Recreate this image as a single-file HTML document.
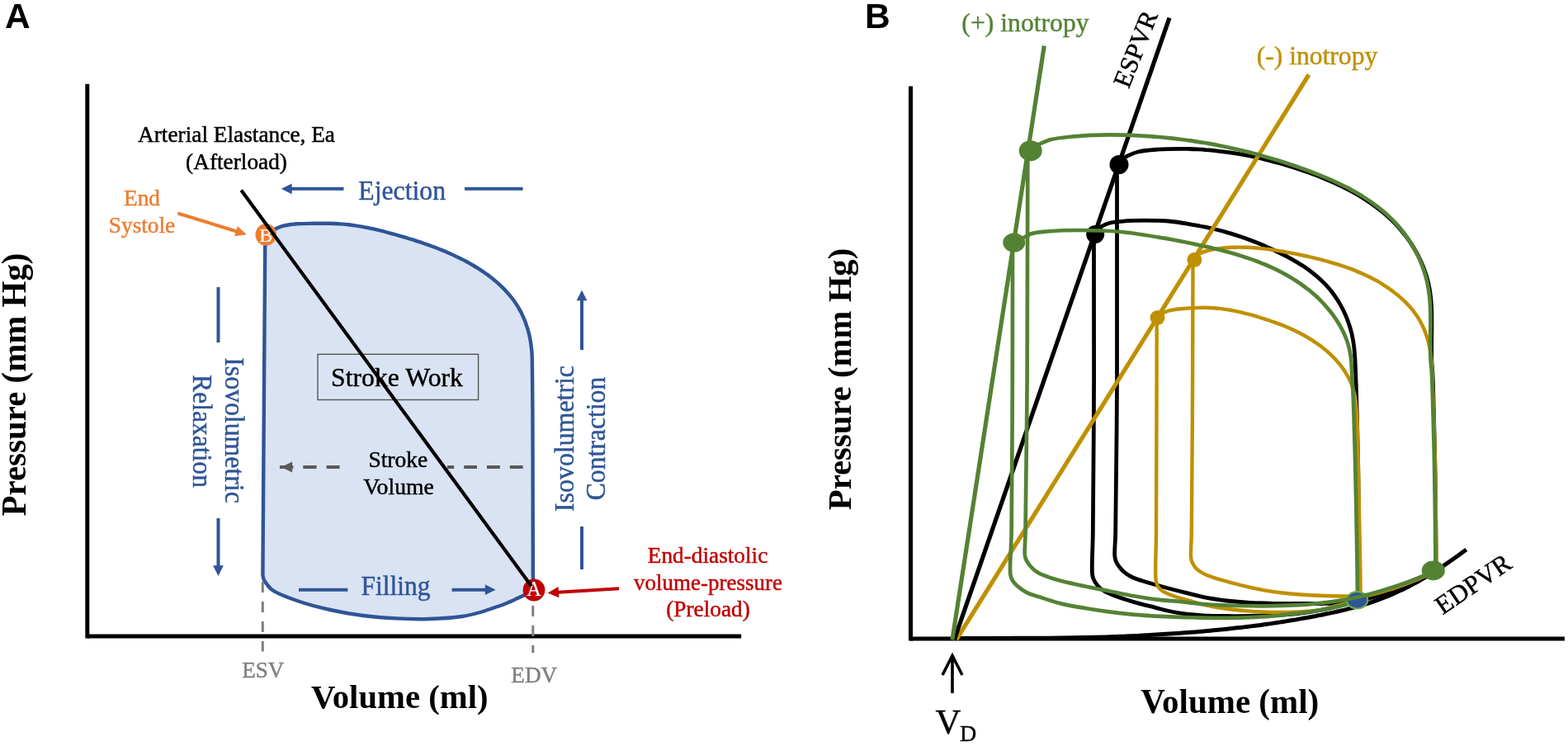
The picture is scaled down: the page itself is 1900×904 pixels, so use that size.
<!DOCTYPE html>
<html lang="en">
<head>
<meta charset="utf-8">
<title>Pressure-volume loops</title>
<style>
html,body{margin:0;padding:0;background:#fff;}
body{width:1900px;height:904px;overflow:hidden;}
svg{display:block;}
</style>
</head>
<body>
<svg width="1900" height="904" viewBox="0 0 1900 904">
<rect width="1900" height="904" fill="#fff"/>
<g id="panelA">
<text x="6.1" y="34.0" font-family="'Liberation Sans',sans-serif" font-size="42.4" font-weight="bold" fill="#000">A</text>
<path d="M321.2 298.0C321.3 295.0 321.2 293.2 321.6 291.0C322.0 288.9 322.5 286.8 323.5 285.0C324.5 283.3 325.9 281.7 327.5 280.5C329.2 279.2 331.6 278.5 333.7 277.5C335.7 276.6 337.6 275.5 339.7 274.8C341.8 274.0 343.8 273.5 346.4 273.0C350.0 272.3 354.7 271.7 359.6 271.3C365.5 270.8 372.8 270.9 379.5 270.8C386.3 270.7 395.1 270.7 400.0 270.8C402.8 270.8 404.3 270.9 406.5 271.0C408.7 271.1 410.8 271.2 413.0 271.4C415.1 271.5 417.3 271.7 419.4 271.9C421.6 272.2 423.7 272.4 425.8 272.7C428.0 273.0 430.1 273.3 432.2 273.6C434.4 273.9 436.5 274.3 438.6 274.7C440.7 275.1 442.8 275.5 444.9 275.9C447.1 276.3 449.2 276.8 451.3 277.2C453.4 277.7 455.5 278.2 457.6 278.7C459.7 279.2 461.8 279.7 463.9 280.2C466.0 280.7 468.0 281.3 470.1 281.8C472.2 282.4 474.3 283.0 476.4 283.5C478.5 284.1 480.6 284.7 482.7 285.3C484.7 285.9 486.8 286.5 488.9 287.1C491.0 287.7 493.1 288.3 495.1 289.0C497.2 289.6 499.3 290.3 501.4 290.9C503.4 291.6 505.5 292.2 507.6 292.9C509.6 293.6 511.7 294.3 513.7 295.0C515.8 295.7 517.8 296.4 519.9 297.1C521.9 297.8 524.0 298.6 526.0 299.3C528.0 300.1 530.1 300.9 532.1 301.7C534.1 302.5 536.1 303.3 538.1 304.1C540.1 305.0 542.1 305.8 544.1 306.7C546.1 307.6 548.1 308.4 550.0 309.4C552.0 310.3 554.0 311.2 555.9 312.2C557.9 313.1 559.8 314.1 561.7 315.1C563.7 316.1 565.6 317.2 567.5 318.2C569.4 319.3 571.3 320.4 573.2 321.5C575.0 322.6 576.9 323.7 578.8 324.9C580.6 326.0 582.4 327.2 584.2 328.4C586.1 329.7 587.8 330.9 589.6 332.2C591.4 333.4 593.1 334.7 594.8 336.1C596.5 337.4 598.2 338.8 599.9 340.2C601.5 341.6 603.1 343.0 604.7 344.4C606.3 345.9 607.9 347.4 609.4 348.9C610.9 350.4 612.4 351.9 613.8 353.5C615.3 355.1 616.7 356.7 618.0 358.3C619.4 360.0 620.7 361.6 622.0 363.3C623.2 365.0 624.4 366.8 625.6 368.6C626.8 370.3 627.9 372.1 628.9 374.0C630.0 375.8 631.0 377.7 632.0 379.6C632.9 381.5 633.8 383.5 634.6 385.4C635.5 387.4 636.3 389.4 637.0 391.4C637.7 393.4 638.4 395.5 639.1 397.6C639.7 399.6 640.3 401.7 640.8 403.8C641.3 405.9 641.8 408.0 642.2 410.2C642.6 412.3 643.0 414.4 643.3 416.6C643.6 418.7 643.9 420.9 644.1 423.0C644.3 425.2 644.5 427.4 644.6 429.5C644.7 431.7 644.7 433.2 644.8 436.0C644.9 441.5 645.0 451.0 645.1 460.0C645.2 471.6 645.3 485.3 645.4 500.0C645.5 518.0 645.5 540.0 645.6 560.0C645.6 580.0 645.7 600.9 645.7 620.0C645.7 637.4 645.8 656.4 645.8 670.0L645.8 694L645.8 694.0C645.9 697.9 646.1 701.4 646.3 705.0C646.5 708.4 647.0 715.0 647.0 715.0L647.0 715.0C647.0 715.0 642.1 717.8 640.0 718.9C638.3 719.8 637.0 720.3 635.2 721.2C632.7 722.4 629.7 723.8 626.5 725.3C622.6 727.1 617.7 729.4 613.3 731.2C608.9 733.0 604.9 734.3 600.0 736.0C594.0 738.0 586.7 740.7 580.0 742.5C573.4 744.3 567.9 745.8 560.0 747.0C549.0 748.6 533.3 749.6 520.0 750.0C506.7 750.4 493.3 750.1 480.0 749.4C466.7 748.7 453.3 747.7 440.0 746.0C426.6 744.3 413.3 742.0 400.0 739.0C386.6 736.0 372.2 732.3 360.0 728.0C349.1 724.2 335.6 718.8 330.0 715.0C327.4 713.2 326.6 711.9 325.0 710.0C323.2 707.9 321.1 705.3 320.0 703.0C319.1 701.0 318.8 699.8 318.4 697.0Z" fill="#dae3f3" stroke="#2f5597" stroke-width="4.4" stroke-linejoin="round"/>
<line x1="105.8" y1="101.8" x2="105.8" y2="773.6" stroke="#000" stroke-width="5.0"/>
<line x1="105.9" y1="771.1" x2="898.2" y2="771.1" stroke="#000" stroke-width="5.0"/>
<line x1="318.3" y1="705.0" x2="318.3" y2="789.5" stroke="#7f7f7f" stroke-width="3.0" stroke-dasharray="13 11"/>
<line x1="645.8" y1="734.0" x2="645.8" y2="791.0" stroke="#7f7f7f" stroke-width="3.0" stroke-dasharray="13 11"/>
<text x="318.8" y="821.3" font-family="'Liberation Serif',serif" font-size="27.0" text-anchor="middle" fill="#7f7f7f" textLength="51.0" lengthAdjust="spacingAndGlyphs" stroke="#7f7f7f" stroke-width="0.45">ESV</text>
<text x="647.3" y="827.0" font-family="'Liberation Serif',serif" font-size="27.0" text-anchor="middle" fill="#7f7f7f" textLength="56.0" lengthAdjust="spacingAndGlyphs" stroke="#7f7f7f" stroke-width="0.45">EDV</text>
<text x="484.3" y="857.7" font-family="'Liberation Serif',serif" font-size="41.0" font-weight="bold" text-anchor="middle" fill="#000" textLength="214.5" lengthAdjust="spacingAndGlyphs">Volume (ml)</text>
<text transform="translate(30.5 466.0) rotate(-90.00)" font-family="'Liberation Serif',serif" font-size="41.3" font-weight="bold" text-anchor="middle" fill="#000" textLength="319.0" lengthAdjust="spacingAndGlyphs">Pressure (mm Hg)</text>
<text x="286.5" y="171.7" font-family="'Liberation Serif',serif" font-size="27.3" text-anchor="middle" fill="#000" textLength="239.0" lengthAdjust="spacingAndGlyphs" stroke="#000" stroke-width="0.45">Arterial Elastance, Ea</text>
<text x="286.5" y="204.7" font-family="'Liberation Serif',serif" font-size="27.3" text-anchor="middle" fill="#000" stroke="#000" stroke-width="0.45">(Afterload)</text>
<line x1="633.6" y1="566.0" x2="542.0" y2="566.0" stroke="#595959" stroke-width="3.8" stroke-dasharray="15.8 12"/>
<line x1="339.0" y1="566.0" x2="411.5" y2="566.0" stroke="#595959" stroke-width="3.8" stroke-dasharray="16.3 12"/>
<polygon points="340.8,566 354.2,559.5 354.2,572.5" fill="#595959"/>
<text x="482.3" y="566.0" font-family="'Liberation Serif',serif" font-size="27.5" text-anchor="middle" fill="#000" stroke="#000" stroke-width="0.45">Stroke</text>
<text x="483.0" y="598.5" font-family="'Liberation Serif',serif" font-size="27.7" text-anchor="middle" fill="#000" stroke="#000" stroke-width="0.45">Volume</text>
<text x="172.0" y="249.3" font-family="'Liberation Serif',serif" font-size="27.3" text-anchor="middle" fill="#ed7d31" stroke="#ed7d31" stroke-width="0.45">End</text>
<text x="172.0" y="282.4" font-family="'Liberation Serif',serif" font-size="27.3" text-anchor="middle" fill="#ed7d31" stroke="#ed7d31" stroke-width="0.45">Systole</text>
<line x1="215.5" y1="258.5" x2="287.0" y2="280.5" stroke="#ed7d31" stroke-width="4.0"/>
<polygon points="298.9,284.2 284.1,286.3 287.9,274.1" fill="#ed7d31"/>
<ellipse cx="322.3" cy="284.3" rx="12.8" ry="13.3" fill="#ed7d31"/>
<text x="322.3" y="292.6" font-family="'Liberation Serif',serif" font-size="24.0" text-anchor="middle" fill="#fff" stroke="#fff" stroke-width="0.20">B</text>
<rect x="385" y="429.3" width="194.6" height="55.2" fill="none" stroke="#555" stroke-width="1.4"/>
<text x="481.0" y="467.7" font-family="'Liberation Serif',serif" font-size="31.0" text-anchor="middle" fill="#000" textLength="160.0" lengthAdjust="spacingAndGlyphs" stroke="#000" stroke-width="0.45">Stroke Work</text>
<text x="487.2" y="242.3" font-family="'Liberation Serif',serif" font-size="32.8" text-anchor="middle" fill="#2f5597" textLength="105.8" lengthAdjust="spacingAndGlyphs" stroke="#2f5597" stroke-width="0.45">Ejection</text>
<line x1="416.5" y1="228.8" x2="352.6" y2="228.8" stroke="#2f5597" stroke-width="4.0"/>
<polygon points="340.8,228.8 353.6,222.4 353.6,235.2" fill="#2f5597"/>
<line x1="563.0" y1="228.8" x2="633.6" y2="228.8" stroke="#2f5597" stroke-width="4.0"/>
<text x="479.6" y="721.4" font-family="'Liberation Serif',serif" font-size="32.8" text-anchor="middle" fill="#2f5597" textLength="84.0" lengthAdjust="spacingAndGlyphs" stroke="#2f5597" stroke-width="0.45">Filling</text>
<line x1="362.0" y1="714.7" x2="421.4" y2="714.7" stroke="#2f5597" stroke-width="4.0"/>
<line x1="547.6" y1="714.7" x2="588.8" y2="714.7" stroke="#2f5597" stroke-width="4.0"/>
<polygon points="600.6,714.7 587.8,721.1 587.8,708.3" fill="#2f5597"/>
<text transform="translate(272.5 521.5) rotate(90.00)" font-family="'Liberation Serif',serif" font-size="33.0" text-anchor="middle" fill="#2f5597" textLength="176.5" lengthAdjust="spacingAndGlyphs" stroke="#2f5597" stroke-width="0.45">Isovolumetric</text>
<text transform="translate(234.3 522.5) rotate(90.00)" font-family="'Liberation Serif',serif" font-size="33.0" text-anchor="middle" fill="#2f5597" textLength="137.0" lengthAdjust="spacingAndGlyphs" stroke="#2f5597" stroke-width="0.45">Relaxation</text>
<line x1="264.5" y1="348.0" x2="264.5" y2="415.0" stroke="#2f5597" stroke-width="4.0"/>
<line x1="264.5" y1="628.0" x2="264.5" y2="686.2" stroke="#2f5597" stroke-width="4.0"/>
<polygon points="264.5,698.0 258.1,685.2 270.9,685.2" fill="#2f5597"/>
<text transform="translate(695.0 531.5) rotate(-90.00)" font-family="'Liberation Serif',serif" font-size="33.0" text-anchor="middle" fill="#2f5597" textLength="177.0" lengthAdjust="spacingAndGlyphs" stroke="#2f5597" stroke-width="0.45">Isovolumetric</text>
<text transform="translate(732.5 531.5) rotate(-90.00)" font-family="'Liberation Serif',serif" font-size="33.0" text-anchor="middle" fill="#2f5597" textLength="149.5" lengthAdjust="spacingAndGlyphs" stroke="#2f5597" stroke-width="0.45">Contraction</text>
<line x1="705.0" y1="424.0" x2="705.0" y2="363.3" stroke="#2f5597" stroke-width="4.0"/>
<polygon points="705.0,351.5 711.4,364.3 698.6,364.3" fill="#2f5597"/>
<line x1="705.0" y1="638.0" x2="705.0" y2="690.0" stroke="#2f5597" stroke-width="4.0"/>
<circle cx="647" cy="715" r="13.4" fill="#c00000"/>
<text x="647.0" y="722.3" font-family="'Liberation Serif',serif" font-size="24.3" text-anchor="middle" fill="#fff" stroke="#fff" stroke-width="0.20">A</text>
<line x1="750.0" y1="713.2" x2="676.0" y2="717.7" stroke="#c00000" stroke-width="4.0"/>
<polygon points="663.7,718.4 676.6,711.0 677.4,724.2" fill="#c00000"/>
<text x="857.5" y="682.0" font-family="'Liberation Serif',serif" font-size="27.3" text-anchor="middle" fill="#c00000" stroke="#c00000" stroke-width="0.45">End-diastolic</text>
<text x="858.0" y="715.0" font-family="'Liberation Serif',serif" font-size="27.3" text-anchor="middle" fill="#c00000" textLength="180.0" lengthAdjust="spacingAndGlyphs" stroke="#c00000" stroke-width="0.45">volume-pressure</text>
<text x="858.0" y="746.8" font-family="'Liberation Serif',serif" font-size="27.3" text-anchor="middle" fill="#c00000" stroke="#c00000" stroke-width="0.45">(Preload)</text>
<line x1="292.3" y1="230.5" x2="643.9" y2="710.3" stroke="#000" stroke-width="4.2"/>
</g>
<g id="panelB" fill="none" stroke-linecap="butt">
<text x="1048.0" y="34.0" font-family="'Liberation Sans',sans-serif" font-size="42.4" font-weight="bold" fill="#000">B</text>
<line x1="1103.5" y1="104.6" x2="1103.5" y2="776.6" stroke="#000" stroke-width="5.0"/>
<line x1="1103.4" y1="774.1" x2="1895.9" y2="774.1" stroke="#000" stroke-width="5.0"/>
<path d="M1158.0 773.6C1158.0 773.6 1185.4 773.5 1200.0 773.5C1215.9 773.4 1233.3 773.4 1250.0 773.3C1266.7 773.2 1284.3 773.1 1300.0 772.8C1314.1 772.6 1331.7 772.2 1340.0 771.9C1343.7 771.8 1345.4 771.7 1348.2 771.6C1350.9 771.5 1353.6 771.4 1356.3 771.3C1359.0 771.2 1361.8 771.1 1364.5 770.9C1367.2 770.8 1369.9 770.7 1372.7 770.6C1375.4 770.4 1378.1 770.3 1380.8 770.2C1383.5 770.0 1386.3 769.9 1389.0 769.8C1391.7 769.6 1394.4 769.5 1397.1 769.3C1399.9 769.2 1402.6 769.0 1405.3 768.8C1408.0 768.7 1410.7 768.5 1413.5 768.3C1416.2 768.2 1418.9 768.0 1421.6 767.8C1424.3 767.6 1427.1 767.4 1429.8 767.2C1432.5 767.0 1435.2 766.8 1437.9 766.6C1440.6 766.4 1443.4 766.2 1446.1 766.0C1448.8 765.8 1451.5 765.5 1454.2 765.3C1456.9 765.1 1459.7 764.8 1462.4 764.6C1465.1 764.3 1467.8 764.1 1470.5 763.8C1473.2 763.6 1475.9 763.3 1478.6 763.0C1481.4 762.8 1484.1 762.5 1486.8 762.2C1489.5 761.9 1492.2 761.6 1494.9 761.3C1497.6 761.0 1500.3 760.7 1503.0 760.4C1505.7 760.1 1508.4 759.8 1511.1 759.4C1513.8 759.1 1516.5 758.8 1519.2 758.4C1521.9 758.1 1524.6 757.7 1527.3 757.4C1530.0 757.0 1532.7 756.6 1535.4 756.2C1538.1 755.9 1540.8 755.5 1543.5 755.1C1546.2 754.7 1548.9 754.3 1551.6 753.9C1554.3 753.5 1557.0 753.0 1559.7 752.6C1562.3 752.2 1565.0 751.7 1567.7 751.3C1570.4 750.8 1573.1 750.4 1575.8 749.9C1578.4 749.4 1581.1 748.9 1583.8 748.5C1586.5 748.0 1589.2 747.5 1591.8 747.0C1594.5 746.5 1597.2 745.9 1599.9 745.4C1602.5 744.9 1605.2 744.3 1607.9 743.8C1610.5 743.2 1613.2 742.7 1615.9 742.1C1618.5 741.5 1621.2 740.9 1623.8 740.3C1626.5 739.7 1629.1 739.1 1631.8 738.4C1634.4 737.7 1637.0 737.1 1639.6 736.4C1642.3 735.7 1644.9 734.9 1647.5 734.2C1650.1 733.4 1652.7 732.7 1655.3 731.9C1657.9 731.0 1660.5 730.2 1663.0 729.3C1665.6 728.5 1668.2 727.6 1670.7 726.6C1673.3 725.7 1675.8 724.7 1678.3 723.7C1680.8 722.7 1683.3 721.7 1685.8 720.6C1688.3 719.6 1690.8 718.5 1693.3 717.3C1695.8 716.2 1698.2 715.0 1700.7 713.9C1703.1 712.7 1705.6 711.4 1708.0 710.2C1710.4 708.9 1712.8 707.7 1715.2 706.4C1717.6 705.1 1720.0 703.7 1722.3 702.4C1724.7 701.0 1727.1 699.6 1729.4 698.2C1731.8 696.8 1734.1 695.3 1736.4 693.9C1738.7 692.4 1741.0 691.0 1743.3 689.5C1745.6 688.0 1747.9 686.5 1750.1 684.9C1752.4 683.4 1754.7 681.8 1756.9 680.3C1759.2 678.7 1761.4 677.1 1763.6 675.5C1765.8 674.0 1768.0 672.4 1770.2 670.7C1772.4 669.1 1776.8 665.9 1776.8 665.9" stroke="#000" stroke-width="5"/>
<path d="M1353.5 210.0C1353.8 203.4 1353.1 201.0 1354.5 198.0C1355.7 195.5 1358.1 194.1 1360.2 192.5C1362.4 190.9 1364.7 189.7 1367.4 188.4C1370.8 186.8 1374.4 185.1 1379.0 184.0C1385.3 182.4 1393.9 181.8 1402.0 181.2C1411.0 180.5 1423.6 180.3 1430.7 180.3C1434.9 180.3 1437.4 180.4 1440.8 180.5C1444.1 180.6 1447.5 180.7 1450.8 180.9C1454.1 181.1 1457.5 181.3 1460.8 181.6C1464.1 181.8 1467.4 182.1 1470.7 182.4C1474.0 182.8 1477.4 183.2 1480.6 183.6C1483.9 184.0 1487.2 184.4 1490.5 184.9C1493.8 185.4 1497.1 185.9 1500.4 186.4C1503.6 187.0 1506.9 187.6 1510.2 188.2C1513.4 188.8 1516.7 189.5 1519.9 190.2C1523.2 190.9 1526.4 191.6 1529.7 192.4C1532.9 193.2 1536.2 194.0 1539.4 194.8C1542.6 195.6 1545.9 196.5 1549.1 197.4C1552.3 198.3 1555.5 199.2 1558.8 200.2C1562.0 201.2 1565.2 202.2 1568.4 203.2C1571.6 204.2 1574.9 205.3 1578.1 206.4C1581.3 207.5 1584.5 208.6 1587.7 209.7C1590.9 210.9 1594.1 212.1 1597.2 213.3C1600.4 214.6 1603.6 215.8 1606.7 217.2C1609.9 218.5 1613.0 219.8 1616.1 221.2C1619.2 222.6 1622.3 224.0 1625.3 225.5C1628.4 227.0 1631.4 228.5 1634.4 230.1C1637.4 231.7 1640.3 233.3 1643.2 235.0C1646.1 236.7 1649.0 238.4 1651.9 240.2C1654.7 242.0 1657.5 243.8 1660.3 245.7C1663.0 247.6 1665.7 249.5 1668.4 251.5C1671.0 253.5 1673.6 255.6 1676.2 257.7C1678.7 259.8 1681.2 262.0 1683.6 264.3C1686.0 266.5 1688.4 268.8 1690.7 271.2C1693.0 273.6 1695.2 276.1 1697.4 278.6C1699.5 281.1 1701.6 283.7 1703.6 286.3C1705.6 289.0 1707.6 291.7 1709.4 294.5C1711.3 297.2 1713.0 300.1 1714.7 303.0C1716.4 305.8 1718.0 308.8 1719.4 311.8C1720.9 314.8 1722.3 317.8 1723.6 320.9C1724.9 323.9 1726.0 327.0 1727.1 330.2C1728.2 333.3 1729.1 336.5 1730.0 339.7C1730.8 343.0 1731.5 346.2 1732.1 349.5C1732.7 352.7 1733.1 356.0 1733.5 359.4C1733.9 362.7 1734.2 366.0 1734.4 369.4C1734.6 372.7 1734.7 376.1 1734.8 379.4C1734.9 382.8 1734.9 386.2 1734.9 389.6C1734.9 393.0 1734.9 396.4 1734.9 399.8C1734.8 403.2 1734.7 406.5 1734.7 409.9C1734.6 413.3 1734.6 416.7 1734.6 420.1C1734.6 423.4 1734.6 426.8 1734.6 430.2C1734.7 433.5 1734.8 436.8 1735.0 440.1C1735.2 443.4 1735.5 445.4 1735.8 450.0C1736.4 460.2 1736.9 482.6 1737.4 500.0C1737.9 519.1 1738.4 540.0 1738.8 560.0C1739.2 580.0 1739.4 600.9 1739.6 620.0C1739.8 637.4 1739.9 656.8 1740.0 670.0L1740.0 691.5L1740.0 691.5C1740.0 691.5 1723.7 700.9 1715.0 705.0C1705.9 709.3 1695.9 713.1 1686.3 716.5C1676.8 719.9 1667.2 723.2 1657.5 725.5C1648.0 727.8 1638.4 729.5 1628.8 730.5C1619.2 731.5 1609.5 731.4 1600.0 731.5C1590.7 731.6 1581.8 731.3 1572.5 731.3C1563.0 731.3 1553.4 731.5 1543.8 731.3C1534.2 731.1 1524.6 730.9 1515.0 730.3C1505.4 729.8 1495.9 729.1 1486.3 728.0C1476.7 726.8 1467.0 725.4 1457.5 723.4C1447.9 721.4 1438.0 718.6 1428.8 716.2C1420.3 714.0 1411.8 711.8 1404.3 709.7C1398.0 708.0 1392.4 706.4 1386.9 704.7C1381.9 703.1 1376.6 701.6 1372.5 699.7C1369.2 698.2 1366.5 696.6 1363.9 694.6C1361.3 692.5 1358.7 689.9 1356.7 687.4C1354.9 685.1 1353.4 682.7 1352.4 680.3C1351.5 678.2 1351.1 676.9 1350.8 674.0C1350.2 668.0 1351.4 659.5 1351.7 646.0C1352.4 611.3 1353.2 526.6 1353.5 460.0Z" stroke="#000" stroke-width="4.8" stroke-linejoin="round"/>
<path d="M1325.5 295.0C1325.6 288.7 1325.0 286.0 1326.0 283.0C1326.7 280.8 1328.1 279.4 1329.5 278.0C1330.9 276.6 1332.4 275.7 1334.4 274.6C1337.1 273.1 1340.7 271.3 1344.4 270.3C1348.7 269.1 1353.2 268.8 1358.8 268.3C1366.7 267.6 1378.0 267.2 1387.6 267.2C1397.2 267.2 1406.8 267.2 1416.3 268.0C1425.9 268.8 1438.0 271.2 1445.0 272.3C1449.0 272.9 1451.3 273.4 1454.4 274.0C1457.5 274.5 1460.6 275.2 1463.7 275.8C1466.7 276.5 1469.8 277.2 1472.9 278.0C1475.9 278.7 1479.0 279.5 1482.0 280.3C1485.0 281.2 1488.1 282.0 1491.1 282.9C1494.1 283.8 1497.1 284.8 1500.1 285.8C1503.0 286.8 1506.0 287.8 1509.0 288.8C1512.0 289.9 1514.9 291.0 1517.8 292.1C1520.8 293.3 1523.7 294.4 1526.7 295.6C1529.6 296.8 1532.5 298.1 1535.4 299.4C1538.3 300.6 1541.2 302.0 1544.1 303.3C1547.0 304.7 1549.9 306.1 1552.7 307.5C1555.6 308.9 1558.5 310.4 1561.3 311.9C1564.1 313.4 1566.9 315.0 1569.7 316.6C1572.4 318.2 1575.1 319.9 1577.8 321.6C1580.5 323.4 1583.1 325.1 1585.7 327.0C1588.3 328.9 1590.8 330.8 1593.2 332.8C1595.7 334.8 1598.0 336.8 1600.3 339.0C1602.6 341.1 1604.8 343.4 1607.0 345.7C1609.1 348.0 1611.1 350.4 1613.1 352.8C1615.0 355.3 1616.9 357.8 1618.6 360.4C1620.4 363.0 1622.1 365.7 1623.6 368.4C1625.2 371.1 1626.7 373.9 1628.1 376.7C1629.4 379.5 1630.7 382.4 1631.9 385.3C1633.0 388.2 1634.1 391.2 1635.1 394.2C1636.0 397.2 1636.9 400.3 1637.7 403.3C1638.4 406.4 1639.0 409.5 1639.6 412.6C1640.1 415.7 1640.5 418.9 1640.9 422.1C1641.2 425.2 1641.5 428.4 1641.7 431.6C1641.9 434.8 1642.1 437.9 1642.2 441.1C1642.4 444.3 1642.5 447.5 1642.6 450.6C1642.7 453.8 1642.8 455.8 1643.0 460.0C1643.3 468.7 1643.8 485.3 1644.2 500.0C1644.7 518.0 1645.2 540.0 1645.6 560.0C1645.9 580.0 1646.1 599.2 1646.3 620.0C1646.5 642.4 1646.6 670.4 1646.6 690.0L1646.6 726.7L1646.6 726.7C1646.6 726.7 1628.3 732.8 1620.0 735.0C1612.9 736.9 1607.2 738.2 1600.0 739.5C1591.6 741.1 1581.8 742.5 1572.5 743.5C1563.1 744.5 1553.4 745.0 1543.8 745.5C1534.2 746.0 1524.6 746.1 1515.0 746.3C1505.4 746.5 1495.9 746.6 1486.3 746.5C1476.7 746.4 1465.4 746.2 1457.5 745.8C1451.9 745.5 1447.9 745.2 1443.1 744.7C1438.3 744.2 1433.6 743.6 1428.8 742.8C1424.0 742.0 1419.2 741.1 1414.4 740.0C1409.6 738.9 1405.6 737.7 1400.0 736.3C1392.3 734.3 1381.1 731.6 1372.5 729.1C1364.9 726.8 1357.2 724.4 1351.0 722.0C1346.1 720.1 1341.6 718.4 1338.0 716.2C1335.1 714.5 1332.8 712.7 1330.8 710.5C1328.8 708.4 1327.0 705.7 1325.8 703.3C1324.7 701.2 1324.2 700.1 1323.7 696.8C1322.4 687.9 1324.1 668.2 1324.3 646.0C1324.7 603.4 1325.4 520.1 1325.6 460.0Z" stroke="#000" stroke-width="4.8" stroke-linejoin="round"/>
<path d="M1445.5 325.0C1445.7 319.3 1445.3 316.5 1446.3 314.0C1446.9 312.4 1447.9 311.6 1449.0 310.5C1450.3 309.3 1451.6 308.3 1453.7 307.3C1457.1 305.6 1463.9 303.5 1468.1 302.5C1471.3 301.7 1473.8 301.6 1476.6 301.2C1479.5 300.8 1482.3 300.5 1485.1 300.3C1488.0 300.0 1490.8 299.9 1493.7 299.8C1496.5 299.7 1499.3 299.6 1502.2 299.6C1505.0 299.6 1507.8 299.7 1510.7 299.8C1513.5 299.9 1516.4 300.0 1519.2 300.2C1522.0 300.4 1524.9 300.7 1527.7 301.0C1530.5 301.2 1533.4 301.6 1536.2 301.9C1539.0 302.3 1541.9 302.7 1544.7 303.1C1547.5 303.6 1550.4 304.0 1553.2 304.5C1556.0 305.0 1558.8 305.5 1561.7 306.1C1564.5 306.6 1567.3 307.2 1570.2 307.7C1573.0 308.3 1575.8 308.9 1578.7 309.5C1581.5 310.1 1584.3 310.7 1587.1 311.4C1590.0 312.0 1592.8 312.7 1595.6 313.4C1598.4 314.1 1601.2 314.8 1604.0 315.5C1606.8 316.3 1609.6 317.0 1612.4 317.8C1615.1 318.6 1617.9 319.5 1620.7 320.3C1623.4 321.2 1626.2 322.1 1628.9 323.0C1631.6 323.9 1634.3 324.9 1637.0 325.9C1639.7 326.9 1642.3 328.0 1645.0 329.1C1647.6 330.2 1650.2 331.3 1652.8 332.5C1655.4 333.7 1658.0 334.9 1660.6 336.2C1663.1 337.5 1665.6 338.8 1668.1 340.2C1670.6 341.6 1673.1 343.1 1675.5 344.6C1677.9 346.1 1680.3 347.7 1682.7 349.3C1685.0 350.9 1687.3 352.6 1689.6 354.4C1691.9 356.1 1694.1 357.9 1696.3 359.8C1698.4 361.7 1700.5 363.6 1702.5 365.6C1704.6 367.6 1706.5 369.7 1708.4 371.8C1710.3 374.0 1712.1 376.2 1713.8 378.4C1715.4 380.7 1717.1 383.0 1718.6 385.4C1720.1 387.8 1721.5 390.3 1722.7 392.8C1724.0 395.3 1725.2 397.9 1726.3 400.6C1727.3 403.2 1728.3 406.0 1729.1 408.7C1730.0 411.5 1730.7 414.3 1731.4 417.1C1732.0 419.9 1732.6 422.8 1733.1 425.7C1733.6 428.5 1733.9 431.4 1734.3 434.3C1734.6 437.2 1734.9 440.1 1735.1 443.0C1735.3 445.9 1735.4 448.7 1735.5 451.6C1735.6 454.4 1735.5 456.2 1735.6 460.0C1735.8 468.4 1736.8 485.3 1737.3 500.0C1737.9 518.0 1738.5 540.0 1738.9 560.0C1739.3 580.0 1739.6 600.9 1739.9 620.0C1740.1 637.4 1740.4 656.8 1740.5 670.0L1740.6 691.5L1740.6 691.5C1740.6 691.5 1723.9 699.6 1715.0 703.3C1705.8 707.1 1695.9 710.8 1686.3 713.8C1676.8 716.8 1666.8 720.1 1657.5 721.5C1649.1 722.8 1641.8 722.3 1633.0 722.4C1622.8 722.5 1611.6 722.3 1600.0 721.8C1586.9 721.2 1570.8 720.3 1558.2 719.0C1547.7 717.9 1539.0 716.6 1529.4 714.8C1519.8 713.0 1510.2 710.7 1500.6 708.3C1491.0 705.9 1479.8 703.1 1471.9 700.4C1466.2 698.5 1461.6 696.9 1457.5 694.6C1454.1 692.7 1451.1 690.6 1448.9 688.2C1447.0 686.2 1445.6 683.9 1444.6 681.7C1443.7 679.7 1443.4 678.4 1443.1 675.5C1442.4 669.3 1443.6 660.1 1443.8 646.0C1444.3 610.7 1444.8 517.0 1445.1 460.0Z" stroke="#bf9000" stroke-width="4.4" stroke-linejoin="round"/>
<path d="M1401.7 395.0C1401.8 389.8 1401.2 386.3 1402.3 384.0C1402.9 382.7 1404.0 382.2 1405.0 381.5C1406.2 380.7 1407.5 380.0 1409.1 379.3C1411.1 378.4 1413.4 377.3 1416.3 376.5C1420.2 375.4 1425.1 374.8 1430.7 374.2C1438.6 373.4 1453.1 372.7 1459.5 372.7C1462.7 372.7 1464.3 372.8 1466.7 373.0C1469.1 373.1 1471.5 373.3 1473.9 373.5C1476.3 373.8 1478.7 374.0 1481.1 374.3C1483.5 374.7 1485.9 375.0 1488.2 375.4C1490.6 375.8 1493.0 376.2 1495.3 376.7C1497.7 377.2 1500.0 377.7 1502.4 378.2C1504.7 378.7 1507.0 379.3 1509.4 379.9C1511.7 380.5 1514.0 381.1 1516.4 381.7C1518.7 382.3 1521.0 383.0 1523.3 383.7C1525.6 384.4 1527.9 385.1 1530.2 385.8C1532.5 386.5 1534.8 387.2 1537.1 388.0C1539.4 388.8 1541.7 389.6 1543.9 390.4C1546.2 391.2 1548.5 392.0 1550.7 392.9C1553.0 393.7 1555.2 394.6 1557.4 395.5C1559.7 396.5 1561.9 397.4 1564.1 398.4C1566.3 399.4 1568.5 400.4 1570.7 401.5C1572.8 402.5 1575.0 403.6 1577.1 404.8C1579.3 405.9 1581.4 407.1 1583.5 408.3C1585.6 409.6 1587.7 410.8 1589.8 412.2C1591.8 413.5 1593.9 414.8 1595.9 416.2C1597.9 417.7 1599.9 419.1 1601.8 420.6C1603.7 422.1 1605.6 423.6 1607.5 425.2C1609.3 426.8 1611.1 428.5 1612.9 430.1C1614.7 431.8 1616.4 433.5 1618.0 435.3C1619.6 437.1 1621.2 438.9 1622.8 440.7C1624.3 442.6 1625.7 444.5 1627.1 446.4C1628.5 448.3 1629.8 450.3 1631.0 452.4C1632.2 454.4 1633.4 456.5 1634.5 458.6C1635.5 460.7 1636.5 462.8 1637.4 465.0C1638.3 467.2 1639.0 469.5 1639.7 471.8C1640.4 474.1 1641.0 476.4 1641.5 478.8C1642.0 481.1 1642.2 482.9 1642.6 486.0C1643.2 491.7 1643.9 500.5 1644.4 510.0C1645.1 523.6 1645.4 542.6 1645.8 560.0C1646.3 579.1 1646.6 599.2 1647.0 620.0C1647.4 642.4 1648.0 670.4 1648.3 690.0L1648.6 726.7L1648.6 726.7C1648.6 726.7 1628.7 731.8 1620.0 734.0C1612.7 735.9 1607.3 738.0 1600.0 739.2C1591.6 740.6 1581.8 740.9 1572.5 741.4C1563.0 741.9 1553.4 742.1 1543.8 742.0C1534.2 741.9 1524.6 741.3 1515.0 740.6C1505.4 739.9 1495.8 739.1 1486.3 737.8C1476.7 736.5 1465.4 734.6 1457.5 732.7C1451.8 731.4 1448.4 730.0 1443.1 728.4C1436.6 726.5 1427.8 724.3 1421.6 722.0C1416.7 720.2 1411.9 718.5 1408.6 716.2C1406.1 714.5 1404.2 712.7 1402.9 710.5C1401.6 708.4 1401.2 706.9 1400.7 703.3C1399.2 693.4 1400.9 670.6 1401.0 646.0C1401.2 601.7 1401.5 506.1 1401.6 460.0Z" stroke="#bf9000" stroke-width="4.4" stroke-linejoin="round"/>
<line x1="1586.0" y1="90.5" x2="1158.9" y2="775.0" stroke="#bf9000" stroke-width="5.2"/>
<line x1="1417.0" y1="21.6" x2="1156.3" y2="775.3" stroke="#000" stroke-width="5.2"/>
<circle cx="1356" cy="199.5" r="11.5" fill="#000"/>
<circle cx="1327.2" cy="284" r="11" fill="#000"/>
<circle cx="1447.4" cy="314.8" r="9" fill="#bf9000"/>
<circle cx="1402.5" cy="385" r="9" fill="#bf9000"/>
<path d="M1227.0 305.0C1227.4 298.3 1226.7 294.3 1228.5 292.0C1229.7 290.4 1232.1 290.7 1234.0 290.0C1236.2 289.2 1238.5 288.6 1240.9 287.6C1243.6 286.4 1246.0 284.4 1249.5 283.3C1254.2 281.8 1259.8 281.4 1266.8 280.7C1277.4 279.7 1292.8 279.0 1307.0 279.0C1323.2 279.0 1341.1 279.3 1358.8 281.0C1377.5 282.8 1405.5 287.8 1416.3 289.6C1420.5 290.3 1422.2 290.7 1425.1 291.3C1428.1 291.9 1431.0 292.4 1434.0 293.0C1436.9 293.6 1439.9 294.2 1442.9 294.8C1445.9 295.4 1448.9 296.1 1451.8 296.7C1454.8 297.4 1457.8 298.0 1460.8 298.7C1463.8 299.4 1466.8 300.0 1469.8 300.8C1472.7 301.5 1475.7 302.2 1478.7 303.0C1481.7 303.7 1484.6 304.5 1487.6 305.3C1490.5 306.1 1493.5 307.0 1496.4 307.8C1499.4 308.7 1502.3 309.6 1505.2 310.5C1508.1 311.4 1511.0 312.4 1513.9 313.4C1516.8 314.4 1519.6 315.4 1522.5 316.5C1525.3 317.5 1528.1 318.6 1530.9 319.8C1533.7 320.9 1536.5 322.1 1539.2 323.4C1542.0 324.6 1544.7 325.9 1547.4 327.2C1550.1 328.5 1552.7 329.9 1555.4 331.3C1558.0 332.7 1560.6 334.2 1563.2 335.7C1565.7 337.2 1568.3 338.8 1570.8 340.4C1573.3 342.0 1575.7 343.7 1578.1 345.5C1580.6 347.2 1582.9 349.0 1585.3 350.8C1587.6 352.7 1589.9 354.6 1592.1 356.6C1594.4 358.6 1596.6 360.6 1598.7 362.7C1600.9 364.9 1603.0 367.0 1605.0 369.3C1607.1 371.5 1609.1 373.8 1611.0 376.2C1612.9 378.6 1614.8 381.0 1616.6 383.5C1618.3 386.0 1620.0 388.5 1621.6 391.2C1623.2 393.8 1624.8 396.4 1626.1 399.1C1627.5 401.8 1628.8 404.6 1630.0 407.4C1631.2 410.2 1632.2 413.0 1633.1 415.9C1634.0 418.8 1634.8 421.7 1635.4 424.7C1636.1 427.6 1636.5 430.6 1636.9 433.6C1637.3 436.6 1637.5 439.7 1637.7 442.7C1637.9 445.8 1637.9 448.8 1638.1 451.9C1638.2 454.9 1638.3 458.0 1638.5 461.0C1638.7 464.0 1639.0 466.1 1639.2 470.0C1639.6 477.1 1640.0 488.3 1640.4 500.0C1641.0 516.6 1641.6 540.0 1642.1 560.0C1642.6 580.0 1643.0 599.2 1643.4 620.0C1643.8 642.4 1644.3 670.4 1644.6 690.0L1645.0 726.7L1645.0 726.7C1645.0 726.7 1638.1 730.3 1633.0 732.0C1624.8 734.7 1610.5 737.3 1600.0 739.2C1590.4 740.9 1581.8 742.0 1572.5 743.2C1563.0 744.4 1553.4 745.6 1543.8 746.4C1534.2 747.2 1524.6 747.7 1515.0 748.1C1505.4 748.5 1495.9 748.7 1486.3 748.8C1476.7 748.9 1467.1 748.8 1457.5 748.6C1447.9 748.4 1438.4 748.1 1428.8 747.8C1419.2 747.5 1409.5 747.2 1400.0 746.7C1390.7 746.2 1381.8 745.6 1372.5 744.7C1363.0 743.8 1353.4 742.7 1343.8 741.4C1334.2 740.1 1324.6 738.6 1315.0 737.0C1305.4 735.4 1295.6 733.9 1286.3 731.6C1277.3 729.4 1267.7 726.1 1260.0 723.6C1253.9 721.6 1248.6 720.3 1243.8 717.8C1239.5 715.6 1235.3 712.6 1232.3 709.8C1229.9 707.6 1227.9 705.3 1226.6 702.9C1225.4 700.8 1224.9 699.7 1224.4 696.5C1223.0 687.7 1225.3 668.1 1225.6 646.0C1226.2 603.5 1226.6 519.2 1226.8 460.0Z" stroke="#548235" stroke-width="4.7" stroke-linejoin="round"/>
<ellipse cx="1644.5" cy="727.2" rx="12.8" ry="10.2" fill="#2f5597" stroke="#70ad47" stroke-width="2"/>
<path d="M1245.3 195.0C1245.8 186.9 1245.1 182.7 1247.0 180.0C1248.2 178.3 1250.1 178.3 1252.0 177.5C1254.2 176.5 1256.7 175.7 1259.6 174.6C1263.3 173.1 1267.2 170.7 1272.5 169.3C1280.1 167.2 1290.7 166.3 1301.3 165.3C1314.2 164.1 1330.0 163.5 1344.4 163.4C1358.8 163.3 1377.9 164.3 1387.6 164.8C1392.5 165.1 1395.0 165.3 1398.7 165.6C1402.3 165.9 1406.0 166.2 1409.7 166.5C1413.3 166.9 1417.0 167.3 1420.6 167.7C1424.3 168.1 1427.9 168.5 1431.5 169.0C1435.2 169.4 1438.8 169.9 1442.4 170.4C1446.0 170.9 1449.6 171.5 1453.2 172.1C1456.8 172.6 1460.4 173.3 1464.0 173.9C1467.6 174.5 1471.2 175.2 1474.8 175.9C1478.4 176.6 1481.9 177.3 1485.5 178.0C1489.1 178.8 1492.6 179.6 1496.2 180.4C1499.7 181.2 1503.3 182.0 1506.8 182.9C1510.4 183.7 1513.9 184.6 1517.5 185.6C1521.0 186.5 1524.6 187.4 1528.1 188.4C1531.6 189.4 1535.2 190.4 1538.7 191.4C1542.2 192.5 1545.7 193.5 1549.3 194.6C1552.8 195.7 1556.3 196.9 1559.8 198.0C1563.3 199.2 1566.9 200.3 1570.4 201.5C1573.9 202.8 1577.4 204.0 1580.9 205.3C1584.4 206.5 1587.9 207.8 1591.4 209.2C1594.9 210.5 1598.4 211.9 1601.8 213.3C1605.3 214.7 1608.7 216.1 1612.1 217.6C1615.5 219.1 1618.9 220.7 1622.3 222.3C1625.6 223.9 1629.0 225.5 1632.2 227.2C1635.5 228.9 1638.8 230.7 1642.0 232.5C1645.2 234.3 1648.3 236.2 1651.4 238.1C1654.5 240.1 1657.6 242.1 1660.6 244.1C1663.6 246.2 1666.5 248.4 1669.4 250.6C1672.2 252.8 1675.0 255.1 1677.8 257.5C1680.5 259.8 1683.2 262.3 1685.7 264.8C1688.3 267.3 1690.8 269.9 1693.2 272.6C1695.6 275.4 1698.0 278.2 1700.2 281.0C1702.4 283.9 1704.6 286.9 1706.6 289.9C1708.7 293.0 1710.6 296.1 1712.5 299.3C1714.3 302.5 1716.0 305.7 1717.6 309.0C1719.3 312.3 1720.8 315.7 1722.1 319.1C1723.5 322.5 1724.8 326.0 1725.9 329.5C1727.0 333.0 1728.0 336.5 1728.9 340.1C1729.7 343.7 1730.4 347.3 1731.0 350.9C1731.6 354.5 1732.0 358.1 1732.4 361.8C1732.7 365.4 1732.9 369.1 1733.1 372.7C1733.3 376.4 1733.3 380.1 1733.4 383.8C1733.4 387.5 1733.4 391.2 1733.4 394.9C1733.4 398.6 1733.3 402.3 1733.3 406.0C1733.2 409.7 1733.2 413.4 1733.2 417.1C1733.2 420.8 1733.2 424.5 1733.3 428.1C1733.4 431.8 1733.5 435.5 1733.8 439.1C1734.0 442.8 1734.5 445.0 1734.8 450.0C1735.5 460.6 1736.0 482.6 1736.5 500.0C1737.1 519.1 1737.6 540.0 1738.0 560.0C1738.4 580.0 1738.7 600.9 1738.9 620.0C1739.1 637.4 1739.3 656.8 1739.4 670.0L1739.5 691.5L1739.5 691.5C1739.5 691.5 1729.4 695.9 1723.6 698.3C1716.7 701.1 1708.7 704.4 1700.6 707.3C1691.6 710.5 1681.4 713.7 1671.9 716.5C1662.7 719.2 1652.2 722.0 1644.6 723.8C1639.3 725.1 1636.5 725.7 1631.0 726.6C1622.8 728.0 1610.0 729.8 1600.0 730.9C1590.6 731.9 1581.8 732.7 1572.5 733.2C1563.0 733.8 1553.4 734.0 1543.8 734.2C1534.2 734.4 1524.6 734.3 1515.0 734.2C1505.4 734.1 1495.9 733.9 1486.3 733.5C1476.7 733.1 1467.1 732.8 1457.5 732.0C1447.9 731.2 1438.4 729.8 1428.8 728.9C1419.2 727.9 1409.5 727.5 1400.0 726.3C1390.7 725.2 1381.7 723.7 1372.5 722.0C1363.0 720.3 1353.4 718.1 1343.8 716.2C1334.2 714.3 1324.6 712.5 1315.0 710.5C1305.4 708.5 1295.1 706.4 1286.3 704.0C1278.5 701.9 1270.5 699.6 1264.7 697.2C1260.6 695.5 1257.5 694.0 1254.6 691.8C1251.8 689.7 1249.4 687.1 1247.4 684.6C1245.6 682.4 1244.0 680.0 1243.1 677.7C1242.3 675.8 1242.1 674.6 1241.8 672.0C1241.3 666.5 1242.3 658.6 1242.5 646.0C1243.1 612.3 1244.1 527.5 1244.6 460.0Z" stroke="#548235" stroke-width="4.7" stroke-linejoin="round"/>
<line x1="1265.3" y1="55.5" x2="1153.9" y2="775.4" stroke="#548235" stroke-width="5.2"/>
<ellipse cx="1248.7" cy="182.7" rx="14" ry="12.5" fill="#548235"/>
<ellipse cx="1228.8" cy="294" rx="13.5" ry="11.5" fill="#548235"/>
<ellipse cx="1736.8" cy="691.4" rx="14.1" ry="11.9" fill="#548235"/>
<text x="1242.5" y="37.7" font-family="'Liberation Serif',serif" font-size="31.7" text-anchor="middle" fill="#548235" textLength="154.3" lengthAdjust="spacingAndGlyphs" stroke="#548235" stroke-width="0.45">(+) inotropy</text>
<text x="1596.0" y="77.5" font-family="'Liberation Serif',serif" font-size="31.6" text-anchor="middle" fill="#bf9000" textLength="146.5" lengthAdjust="spacingAndGlyphs" stroke="#bf9000" stroke-width="0.45">(-) inotropy</text>
<text transform="translate(1367.8 108.3) rotate(-68.40)" font-family="'Liberation Serif',serif" font-size="31.2" fill="#000" stroke="#000" stroke-width="0.45">ESPVR</text>
<text transform="translate(1748.0 745.4) rotate(-34.30)" font-family="'Liberation Serif',serif" font-size="31.6" fill="#000" stroke="#000" stroke-width="0.45">EDPVR</text>
<text x="1490.2" y="863.8" font-family="'Liberation Serif',serif" font-size="41.5" font-weight="bold" text-anchor="middle" fill="#000" textLength="216.0" lengthAdjust="spacingAndGlyphs">Volume (ml)</text>
<text transform="translate(1030.8 459.5) rotate(-90.00)" font-family="'Liberation Serif',serif" font-size="41.0" font-weight="bold" text-anchor="middle" fill="#000" textLength="317.5" lengthAdjust="spacingAndGlyphs">Pressure (mm Hg)</text>
<path d="M1154 840V795.5M1142 818L1154 794.5L1166 818" stroke="#000" stroke-width="3.6"/>
<text x="1133.5" y="889.3" font-family="'Liberation Serif',serif" font-size="42.8" fill="#000" stroke="#000" stroke-width="0.45">V</text>
<text x="1163.0" y="898.3" font-family="'Liberation Serif',serif" font-size="28.0" fill="#000" stroke="#000" stroke-width="0.45">D</text>
</g>
</svg>
</body>
</html>
